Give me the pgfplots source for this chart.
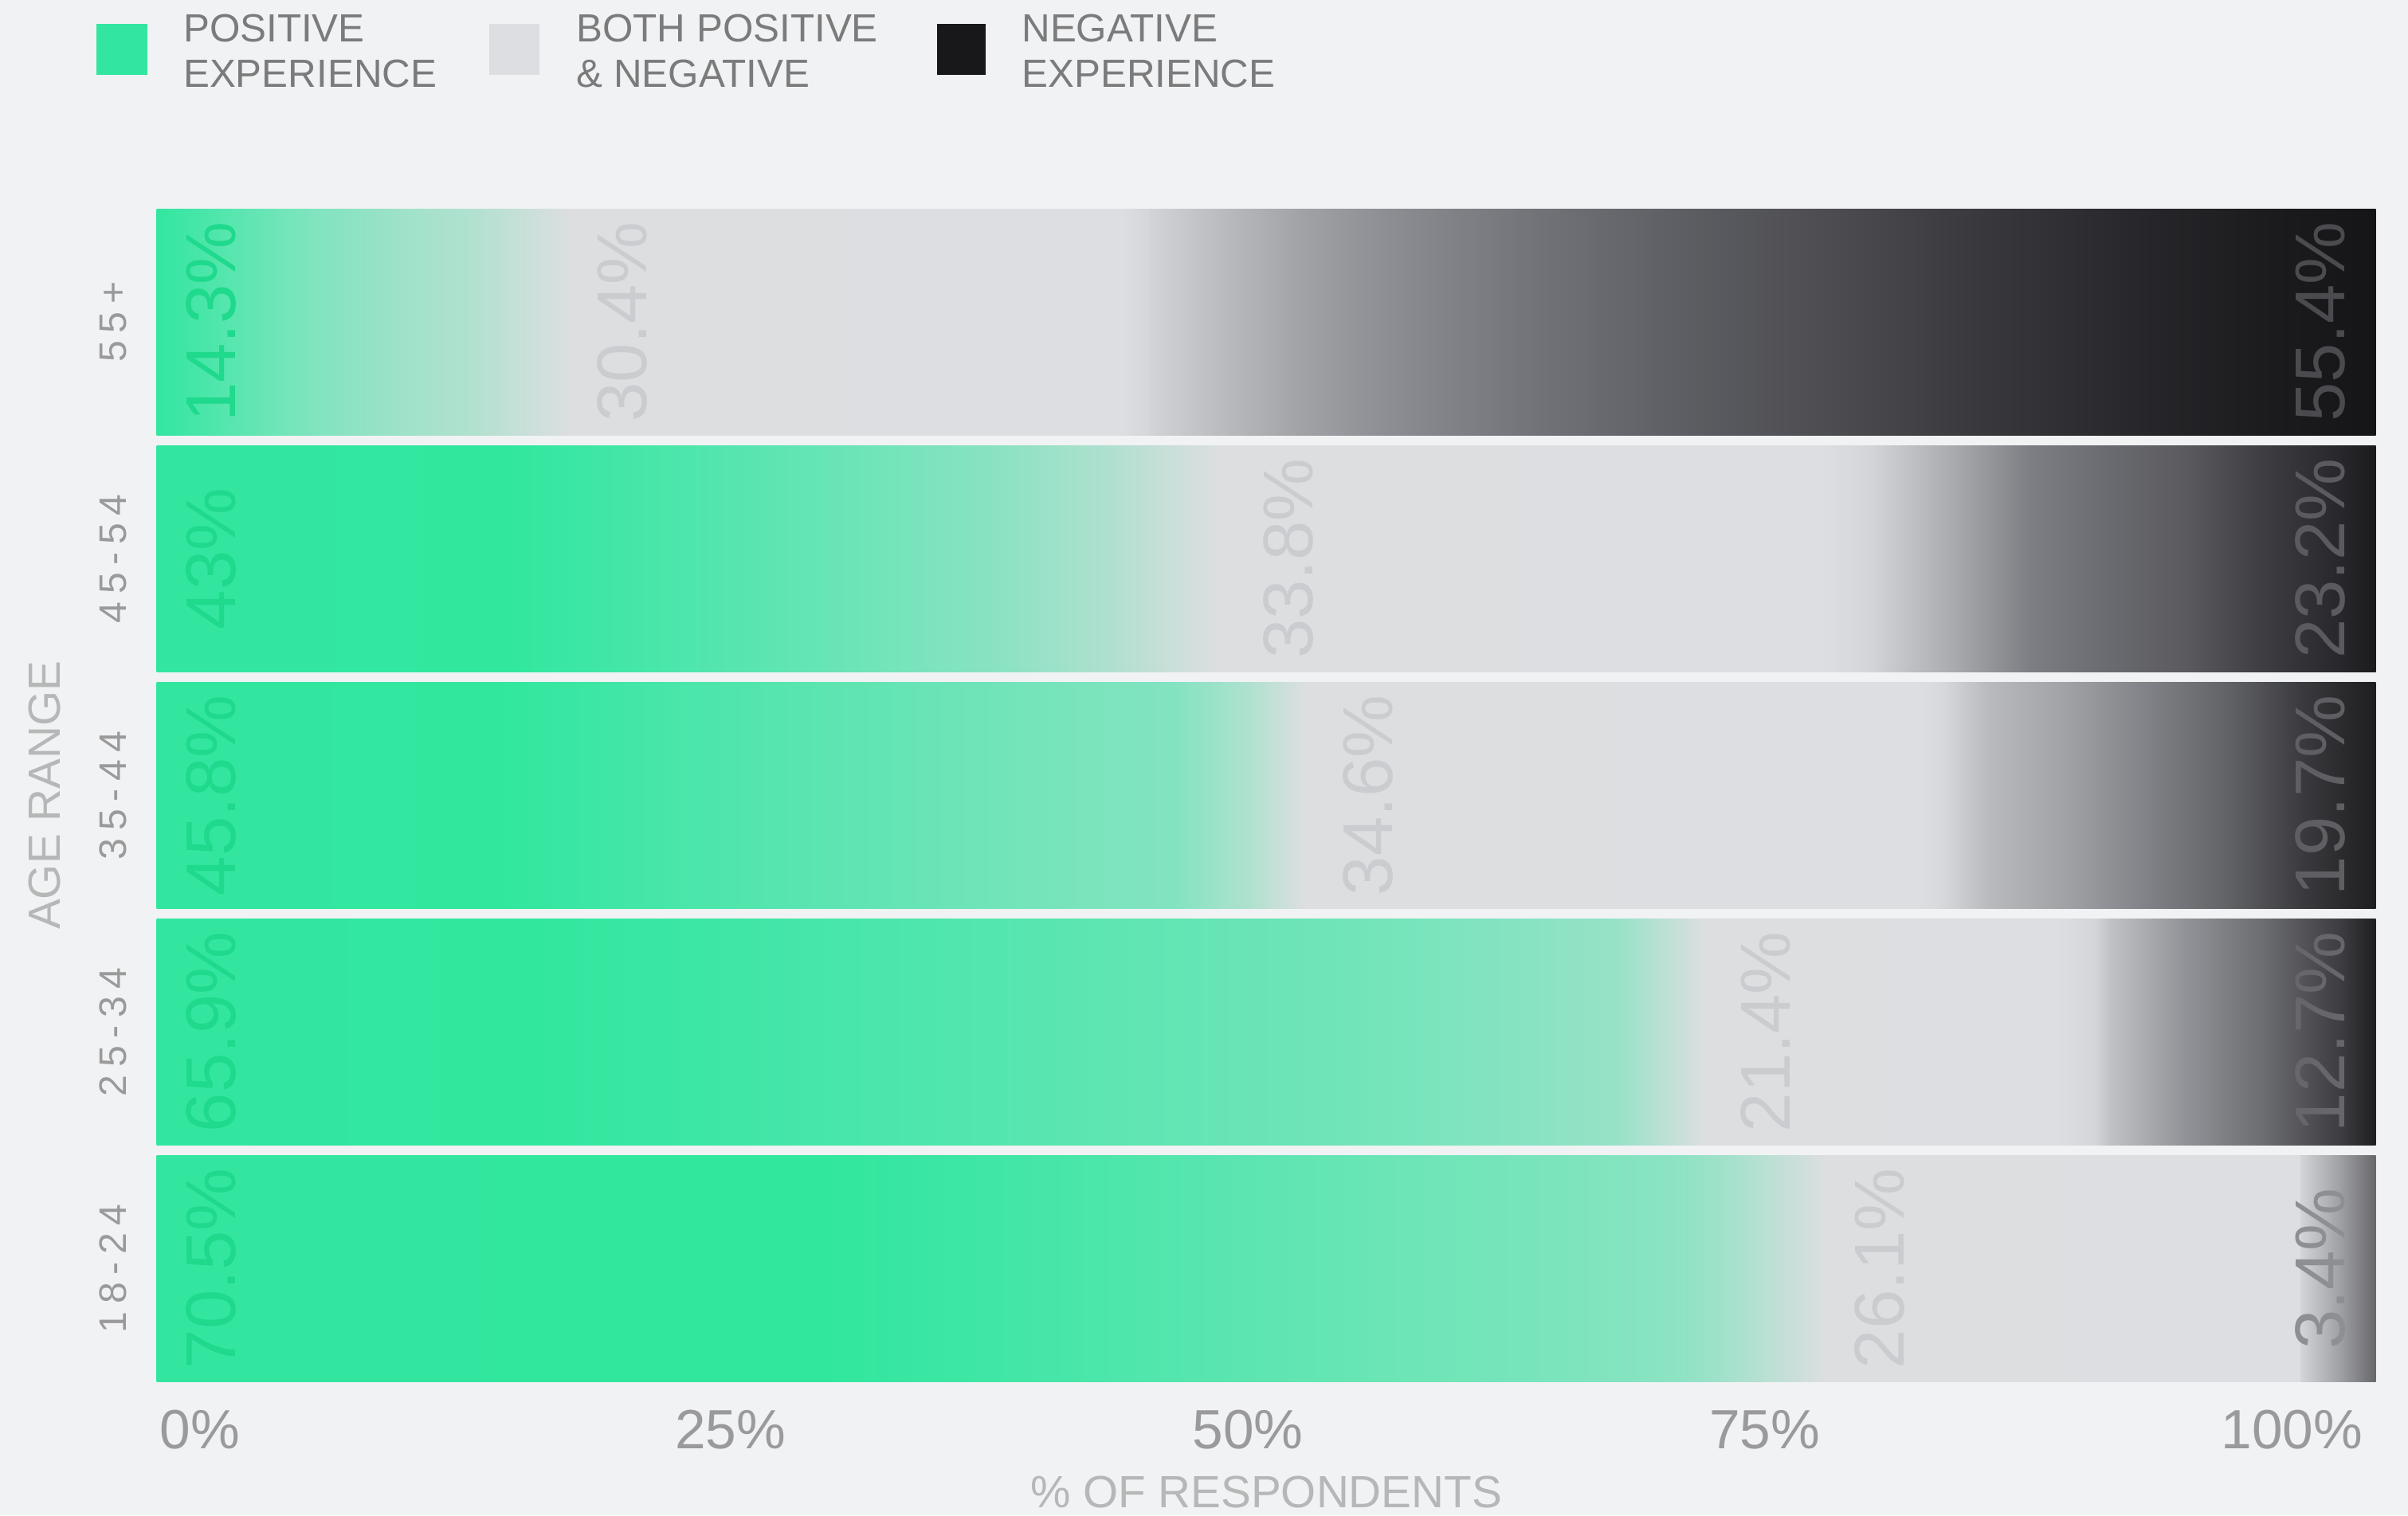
\documentclass[border=0pt]{standalone}
\usepackage{pgfplots}
\pgfplotsset{compat=1.18}
\usepackage{fontspec}
\setmainfont{Liberation Sans}
\newfontfamily\catfont[LetterSpace=20]{Liberation Sans}

\definecolor{bgc}{HTML}{F1F2F4}
\definecolor{legtext}{HTML}{7B7B7B}
\definecolor{tickc}{HTML}{9A9A9C}
\definecolor{catc}{HTML}{9A9A9A}
\definecolor{labc}{HTML}{B6B7B7}
\definecolor{cpos}{HTML}{33E6A0}
\definecolor{cboth}{HTML}{DDDEE1}
\definecolor{cneg}{HTML}{18181B}
\definecolor{posl}{HTML}{1FD98C}
\definecolor{bothl}{HTML}{CBCCD0}

\newcommand\hx[1]{\definecolor{h#1}{HTML}{#1}}
\hx{33E6A0}\hx{30E79D}\hx{3BE6A3}\hx{4BE6AA}\hx{5DE5B1}\hx{6DE5B7}\hx{7CE4BD}\hx{8CE3C3}\hx{A0E1CA}
\hx{31E79E}\hx{40E6A6}\hx{4EE6AD}\hx{5EE5B2}\hx{6EE4B8}\hx{7AE4BD}\hx{88E3C2}\hx{98E2C7}
\hx{43E6A7}\hx{55E5AE}\hx{64E4B4}\hx{72E4BA}\hx{7BE4BD}\hx{82E3C1}
\hx{45E6A8}\hx{5CE5B1}\hx{8AE2C3}\hx{B0E0CF}
\hx{42E6A6}\hx{52E6AC}\hx{62E5B3}\hx{72E5B9}\hx{80E4BF}\hx{8BE3C3}\hx{96E2C6}\hx{A1E2CA}\hx{AAE1CD}\hx{B2E1D0}
\hx{B0E1CF}\hx{A4E1CB}
\hx{DCDEE0}\hx{DDDEE1}\hx{D5D6D9}\hx{D8D9DC}\hx{D6D7DA}\hx{D7D8DB}
\hx{D3D4D7}\hx{A2A3A7}\hx{68686C}\hx{CFD0D3}
\hx{C8C9CC}\hx{C0C1C5}\hx{929398}\hx{6C6D71}\hx{3C3C40}\hx{1F1F22}
\hx{D0D1D4}\hx{B9BABE}\hx{A0A1A5}\hx{818287}\hx{636468}\hx{3A3A3E}\hx{1D1D20}
\hx{A9AAAE}\hx{7D7E83}\hx{6A6B70}\hx{5A5A5F}\hx{3E3E42}\hx{28282C}\hx{1B1B1E}
\hx{B8B9BD}\hx{8E8F94}\hx{808186}\hx{727378}\hx{5C5D62}\hx{4A4A4F}\hx{37373B}\hx{26262A}\hx{151518}
\hx{66666B}\hx{5E5E63}

% positive segments
\pgfdeclarehorizontalshading{pos18}{100bp}{color(0bp)=(h33E6A0); color(25bp)=(h33E6A0); color(46bp)=(h30E79D); color(50bp)=(h3BE6A3); color(55bp)=(h4BE6AA); color(60bp)=(h5DE5B1); color(65bp)=(h6DE5B7); color(70bp)=(h7CE4BD); color(73.5bp)=(h8CE3C3); color(75bp)=(hA0E1CA); color(100bp)=(hA0E1CA)}
\pgfdeclarehorizontalshading{pos25}{100bp}{color(0bp)=(h33E6A0); color(25bp)=(h33E6A0); color(38bp)=(h31E79E); color(45bp)=(h40E6A6); color(51bp)=(h4EE6AD); color(57.5bp)=(h5EE5B2); color(64.5bp)=(h6EE4B8); color(68.5bp)=(h7AE4BD); color(72bp)=(h88E3C2); color(75bp)=(h98E2C7); color(100bp)=(h98E2C7)}
\pgfdeclarehorizontalshading{pos35}{100bp}{color(0bp)=(h33E6A0); color(25bp)=(h33E6A0); color(42bp)=(h31E79E); color(48.5bp)=(h43E6A7); color(55bp)=(h55E5AE); color(61bp)=(h64E4B4); color(66.5bp)=(h72E4BA); color(71bp)=(h7BE4BD); color(75bp)=(h82E3C1); color(100bp)=(h82E3C1)}
\pgfdeclarehorizontalshading{pos45}{100bp}{color(0bp)=(h33E6A0); color(25bp)=(h33E6A0); color(43.5bp)=(h31E79E); color(50bp)=(h45E6A8); color(57bp)=(h5CE5B1); color(63bp)=(h72E4BA); color(69bp)=(h8AE2C3); color(72.5bp)=(hA0E1CA); color(75bp)=(hB0E0CF); color(100bp)=(hB0E0CF)}
\pgfdeclarehorizontalshading{pos55}{100bp}{color(0bp)=(h33E6A0); color(25bp)=(h33E6A0); color(30bp)=(h42E6A6); color(35bp)=(h52E6AC); color(40bp)=(h62E5B3); color(45bp)=(h72E5B9); color(50bp)=(h80E4BF); color(55bp)=(h8BE3C3); color(60bp)=(h96E2C6); color(65bp)=(hA1E2CA); color(70bp)=(hAAE1CD); color(75bp)=(hB2E1D0); color(100bp)=(hB2E1D0)}
% both segments
\pgfdeclarehorizontalshading{both18}{100bp}{color(0bp)=(hA0E1CA); color(25bp)=(hA0E1CA); color(34bp)=(hDCDEE0); color(75bp)=(hDDDEE1); color(100bp)=(hDDDEE1)}
\pgfdeclarehorizontalshading{both25}{100bp}{color(0bp)=(h98E2C7); color(25bp)=(h98E2C7); color(34bp)=(hDCDEE0); color(71bp)=(hDDDEE1); color(75bp)=(hD5D6D9); color(100bp)=(hD5D6D9)}
\pgfdeclarehorizontalshading{both35}{100bp}{color(0bp)=(h82E3C1); color(25bp)=(h82E3C1); color(30bp)=(hB0E1CF); color(33.5bp)=(hDCDEE0); color(73.5bp)=(hDDDEE1); color(75bp)=(hD8D9DC); color(100bp)=(hD8D9DC)}
\pgfdeclarehorizontalshading{both45}{100bp}{color(0bp)=(hB0E0CF); color(25bp)=(hB0E0CF); color(32bp)=(hDCDEE0); color(72.5bp)=(hDDDEE1); color(75bp)=(hD6D7DA); color(100bp)=(hD6D7DA)}
\pgfdeclarehorizontalshading{both55}{100bp}{color(0bp)=(hB2E1D0); color(25bp)=(hB2E1D0); color(32bp)=(hDCDEE0); color(73bp)=(hDDDEE1); color(75bp)=(hD5D6D9); color(100bp)=(hD5D6D9)}
% negative segments
\pgfdeclarehorizontalshading{neg18}{100bp}{color(0bp)=(hD3D4D7); color(25bp)=(hD3D4D7); color(50bp)=(hA2A3A7); color(75bp)=(h68686C); color(100bp)=(h68686C)}
\pgfdeclarehorizontalshading{neg25}{100bp}{color(0bp)=(hD5D6D9); color(25bp)=(hD5D6D9); color(28bp)=(hC0C1C5); color(41bp)=(h929398); color(55bp)=(h6C6D71); color(69bp)=(h3C3C40); color(75bp)=(h1F1F22); color(100bp)=(h1F1F22)}
\pgfdeclarehorizontalshading{neg35}{100bp}{color(0bp)=(hD8D9DC); color(25bp)=(hD8D9DC); color(30.5bp)=(hB9BABE); color(39.5bp)=(hA0A1A5); color(48.5bp)=(h818287); color(57.5bp)=(h636468); color(66.5bp)=(h3A3A3E); color(75bp)=(h1D1D20); color(100bp)=(h1D1D20)}
\pgfdeclarehorizontalshading{neg45}{100bp}{color(0bp)=(hD6D7DA); color(25bp)=(hD6D7DA); color(26bp)=(hD3D4D7); color(34bp)=(hA9AAAE); color(41.5bp)=(h7D7E83); color(49bp)=(h6A6B70); color(56.5bp)=(h5A5A5F); color(64bp)=(h3E3E42); color(71.5bp)=(h28282C); color(75bp)=(h1B1B1E); color(100bp)=(h1B1B1E)}
\pgfdeclarehorizontalshading{neg55}{100bp}{color(0bp)=(hD3D4D7); color(25bp)=(hD3D4D7); color(28.25bp)=(hB8B9BD); color(31.4bp)=(hA0A1A5); color(34.5bp)=(h8E8F94); color(37.5bp)=(h808186); color(40.75bp)=(h727378); color(47bp)=(h5C5D62); color(53.3bp)=(h4A4A4F); color(59.5bp)=(h37373B); color(65.8bp)=(h26262A); color(70.8bp)=(h1B1B1E); color(75bp)=(h151518); color(100bp)=(h151518)}

\pgfplotsset{
  rowaxis/.style={
    at={(51pt,43.5pt)}, anchor=south west, scale only axis,
    width=722.5pt, height=382pt,
    xmin=0, xmax=100, ymin=-0.4786, ymax=4.4786,
    xbar stacked, bar width=0.957,
  },
  hiddenrow/.style={rowaxis, hide axis},
}
\tikzset{
  vlab/.style={rotate=90, anchor=base, inner sep=0pt, font=\fontsize{23}{23}\selectfont},
  legf/.style={anchor=base west, inner sep=0pt, font=\fontsize{12.8}{14}\selectfont, text=legtext},
}

\begin{document}
\begin{tikzpicture}
\fill[bgc] (0,0) rectangle (784pt,493.5pt);
\path[use as bounding box] (0,0) rectangle (784pt,493.5pt);

% legend
\fill[cpos] (31.5pt,469.1pt) rectangle (48pt,485.7pt);
\node[legf] at (59.5pt,479.85pt) {POSITIVE};
\node[legf] at (59.5pt,465.15pt) {EXPERIENCE};
\fill[cboth] (159.25pt,469.1pt) rectangle (175.75pt,485.7pt);
\node[legf] at (187.5pt,479.85pt) {BOTH POSITIVE};
\node[legf] at (187.5pt,465.15pt) {\& NEGATIVE};
\fill[cneg] (305pt,469.1pt) rectangle (321pt,485.7pt);
\node[legf] at (332.5pt,479.85pt) {NEGATIVE};
\node[legf] at (332.5pt,465.15pt) {EXPERIENCE};

% main axis with row 18-24
\begin{axis}[rowaxis,
  axis line style={draw=none}, major tick length=0pt, tick style={draw=none},
  xtick={1.94,25.85,49.17,72.46,96.23},
  xticklabels={0\%,25\%,50\%,75\%,100\%},
  ytick={0,1,2,3,4},
  yticklabels={18-24,25-34,35-44,45-54,55+},
  xticklabel style={anchor=north, inner ysep=9pt, font=\fontsize{18}{18}\selectfont, text=tickc},
  yticklabel style={rotate=90, anchor=south, inner ysep=9.5pt, font=\catfont\fontsize{12.5}{12.5}\selectfont, text=catc},
  xlabel={\% OF RESPONDENTS}, ylabel={AGE RANGE},
  every axis x label/.style={at={(axis description cs:0.5,-0.1075)}, anchor=base, inner sep=0pt, font=\fontsize{14.7}{14.7}\selectfont, text=labc},
  every axis y label/.style={at={(axis description cs:-0.0436,0.5)}, rotate=90, anchor=base, inner sep=0pt, font=\fontsize{14.7}{14.7}\selectfont, text=labc},
]
\addplot[draw=none, shade, shading=pos18] coordinates {(70.5,0)};
\addplot[draw=none, shade, shading=both18] coordinates {(26.1,0)};
\addplot[draw=none, shade, shading=neg18] coordinates {(3.4,0)};
\coordinate (a0) at (axis cs:3.55,0);
\coordinate (b0) at (axis cs:78.75,0);
\coordinate (c0) at (axis cs:98.6,0);
\end{axis}

% row 25-34
\begin{axis}[hiddenrow]
\addplot[draw=none, shade, shading=pos25] coordinates {(65.9,1)};
\addplot[draw=none, shade, shading=both25] coordinates {(21.4,1)};
\addplot[draw=none, shade, shading=neg25] coordinates {(12.7,1)};
\coordinate (a1) at (axis cs:3.55,1);
\coordinate (b1) at (axis cs:73.6,1);
\coordinate (c1) at (axis cs:98.6,1);
\end{axis}

% row 35-44
\begin{axis}[hiddenrow]
\addplot[draw=none, shade, shading=pos35] coordinates {(45.8,2)};
\addplot[draw=none, shade, shading=both35] coordinates {(34.6,2)};
\addplot[draw=none, shade, shading=neg35] coordinates {(19.7,2)};
\coordinate (a2) at (axis cs:3.55,2);
\coordinate (b2) at (axis cs:55.7,2);
\coordinate (c2) at (axis cs:98.6,2);
\end{axis}

% row 45-54
\begin{axis}[hiddenrow]
\addplot[draw=none, shade, shading=pos45] coordinates {(43,3)};
\addplot[draw=none, shade, shading=both45] coordinates {(33.8,3)};
\addplot[draw=none, shade, shading=neg45] coordinates {(23.2,3)};
\coordinate (a3) at (axis cs:3.55,3);
\coordinate (b3) at (axis cs:52.1,3);
\coordinate (c3) at (axis cs:98.6,3);
\end{axis}

% row 55+
\begin{axis}[hiddenrow]
\addplot[draw=none, shade, shading=pos55] coordinates {(14.3,4)};
\addplot[draw=none, shade, shading=both55] coordinates {(30.4,4)};
\addplot[draw=none, shade, shading=neg55] coordinates {(55.4,4)};
\coordinate (a4) at (axis cs:3.55,4);
\coordinate (b4) at (axis cs:22.08,4);
\coordinate (c4) at (axis cs:98.6,4);
\end{axis}

% value labels
\node[vlab, text=posl] at (a0) {70.5\%};
\node[vlab, text=bothl] at (b0) {26.1\%};
\node[vlab, text=h8E8F94] at (c0) {3.4\%};
\node[vlab, text=posl] at (a1) {65.9\%};
\node[vlab, text=bothl] at (b1) {21.4\%};
\node[vlab, text=h66666B] at (c1) {12.7\%};
\node[vlab, text=posl] at (a2) {45.8\%};
\node[vlab, text=bothl] at (b2) {34.6\%};
\node[vlab, text=h5E5E63] at (c2) {19.7\%};
\node[vlab, text=posl] at (a3) {43\%};
\node[vlab, text=bothl] at (b3) {33.8\%};
\node[vlab, text=h5A5A5F] at (c3) {23.2\%};
\node[vlab, text=posl] at (a4) {14.3\%};
\node[vlab, text=bothl] at (b4) {30.4\%};
\node[vlab, text=h4A4A4F] at (c4) {55.4\%};
\end{tikzpicture}
\end{document}
